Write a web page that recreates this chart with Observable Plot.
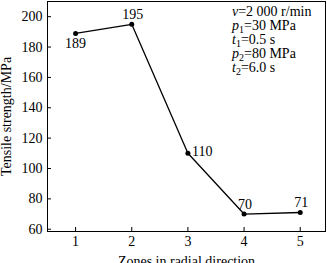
<!DOCTYPE html>
<html>
<head>
<meta charset="utf-8">
<script src="https://cdn.jsdelivr.net/npm/d3@7"></script>
<script src="https://cdn.jsdelivr.net/npm/@observablehq/plot@0.6"></script>
<style>
  html, body { margin: 0; padding: 0; background: white; }
</style>
</head>
<body>
<div id="chart"></div>
<script>
const zones = [1, 2, 3, 4, 5];
const strength = [189, 195, 110, 70, 71];
const xTicks = [1, 2, 3, 4, 5];
const yTicks = [60, 80, 100, 120, 140, 160, 180, 200];
const xTitle = "Zones in radial direction";
const yTitle = "Tensile strength/MPa";
const notes = [
  {sym: "v", sub: "", text: "=2 000 r/min"},
  {sym: "p", sub: "1", text: "=30 MPa"},
  {sym: "t", sub: "1", text: "=0.5 s"},
  {sym: "p", sub: "2", text: "=80 MPa"},
  {sym: "t", sub: "2", text: "=6.0 s"}
];

const data = zones.map((z, i) => ({zone: z, value: strength[i], label: String(strength[i])}));
const below = data.filter((d, i) => i === 0);
const above = data.filter((d, i) => i === 1 || i === 3 || i === 4);
const right = data.filter((d, i) => i === 2);

const font = "'Liberation Serif', 'Times New Roman', serif";

const chart = Plot.plot({
  width: 327,
  height: 263,
  marginLeft: 47,
  marginRight: 2,
  marginTop: 1,
  marginBottom: 32,
  style: {fontFamily: font, fontSize: "14px", background: "white", color: "black", overflow: "visible"},
  x: {domain: [0.5, 5.45]},
  y: {domain: [58.5, 210]},
  marks: [
    Plot.frame({stroke: "black", strokeWidth: 1}),
    Plot.axisX(xTicks, {tickSize: -4, tickFormat: () => "", label: null, stroke: "black"}),
    Plot.axisX(xTicks, {tickSize: 0, tickPadding: 5, tickFormat: d => String(d), fill: "black", fontSize: 14,
      label: xTitle, labelAnchor: "center", labelArrow: "none", labelOffset: 34}),
    Plot.axisY(yTicks, {tickSize: -4, tickFormat: () => "", label: null, stroke: "black"}),
    Plot.axisY(yTicks, {tickSize: 0, tickPadding: 5, tickFormat: d => String(d), fill: "black", fontSize: 14,
      label: yTitle, labelAnchor: "center", labelArrow: "none", labelOffset: 46}),
    Plot.line(data, {x: "zone", y: "value", stroke: "black", strokeWidth: 1.3}),
    Plot.dot(data, {x: "zone", y: "value", r: 2.5, fill: "black"}),
    Plot.text(below, {x: "zone", y: "value", text: "label", dy: 10, fill: "black", fontSize: 14}),
    Plot.text(above, {x: "zone", y: "value", text: "label", dy: -10, dx: 1, fill: "black", fontSize: 14}),
    Plot.text(right, {x: "zone", y: "value", text: "label", dx: 4, dy: -2, textAnchor: "start", fill: "black", fontSize: 14})
  ]
});

document.getElementById("chart").appendChild(chart);

// parameter annotation in the upper-right corner
const svg = d3.select(chart);
const g = svg.append("g")
  .attr("font-family", font)
  .attr("font-size", 14)
  .attr("fill", "black")
  .attr("text-anchor", "start");
notes.forEach((n, i) => {
  const t = g.append("text").attr("x", 232).attr("y", 16 + i * 14);
  t.append("tspan").attr("font-style", "italic").text(n.sym);
  if (n.sub) t.append("tspan").attr("font-size", 10).attr("dy", 3).text(n.sub);
  t.append("tspan").attr("dy", n.sub ? -3 : 0).text(n.text);
});
</script>
</body>
</html>
